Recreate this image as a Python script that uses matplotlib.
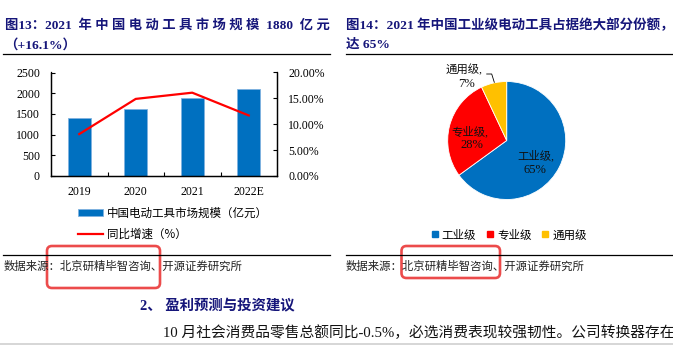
import matplotlib
matplotlib.use('Agg')
import matplotlib.pyplot as plt
from matplotlib.patches import FancyBboxPatch
from matplotlib.lines import Line2D

# ---------------- data ----------------
years = ['2019', '2020', '2021', '2022E']
market_size = [1410, 1620, 1880, 2100]          # 亿元
growth = [8.1, 14.9, 16.1, 11.7]                # %
y_left_ticks = [0, 500, 1000, 1500, 2000, 2500]
y_right_ticks = [0, 5, 10, 15, 20]
pie_labels = ['工业级', '专业级', '通用级']
pie_shares = [65, 28, 7]

# ---------------- style ----------------
W, H = 673, 345
CJK = 'Noto Sans CJK SC'
MIX = ['Liberation Serif', CJK]
NAVY = '#16167a'
BLUE = '#0070C0'
RED = '#FF0000'
GOLD = '#FFC000'
BOXRED = '#ec4b4b'


def fx(x):
    return x / W


def fy(y):
    return 1 - y / H


def rect_px(x0, y0, x1, y1):
    return [fx(x0), fy(y1), (x1 - x0) / W, (y1 - y0) / H]


fig = plt.figure(figsize=(W / 100, H / 100), dpi=100)
fig.patch.set_facecolor('white')

# ---------------- left chart ----------------
ax = fig.add_axes(rect_px(51, 72.5, 277, 176))
xpos = list(range(len(years)))
bars = ax.bar(xpos, market_size, width=0.4, color=BLUE, edgecolor='#7fb2e0',
              linewidth=0.6, zorder=2)
ax.set_xlim(-0.5, len(years) - 0.5)
ax.set_ylim(0, 2500)
ax.set_yticks(y_left_ticks)
ax.set_xticks(xpos)
ax.set_xticklabels(years)
ax.set_xticks([i + 0.5 for i in xpos[:-1]], minor=True)
ax.tick_params(axis='x', which='major', length=0, pad=7)
ax.tick_params(axis='x', which='minor', direction='in', length=3, width=0.8)
ax.tick_params(axis='y', direction='in', length=3, width=0.8, pad=8)
ax.spines['top'].set_visible(False)
for s in ['left', 'right', 'bottom']:
    ax.spines[s].set_linewidth(0.9)

ax2 = ax.twinx()
line, = ax2.plot(xpos, growth, color=RED, lw=1.6, zorder=3)
ax2.set_ylim(0, 20)
ax2.set_yticks(y_right_ticks)
ax2.set_yticklabels([f'{v:.2f}%' for v in y_right_ticks])
ax2.tick_params(axis='y', direction='in', length=3, width=0.8, pad=8)
ax2.spines['top'].set_visible(False)
for s in ['left', 'right', 'bottom']:
    ax2.spines[s].set_linewidth(0.9)
for lab in ax.get_xticklabels() + ax.get_yticklabels() + ax2.get_yticklabels():
    lab.set_family(MIX)
    lab.set_fontsize(8.5)

fig.legend([bars, line], ['中国电动工具市场规模（亿元）', '同比增速（%）'],
           loc='upper left', bbox_to_anchor=(fx(78), fy(207)), frameon=False,
           prop={'family': CJK, 'size': 8.3}, handlelength=2.2, handleheight=0.55,
           handletextpad=0.3, labelspacing=0.7, borderpad=0, borderaxespad=0)

# ---------------- right chart (pie) ----------------
cx, cy, R = 506.7, 140.5, 59
pax = fig.add_axes(rect_px(cx - 120, cy - 120, cx + 120, cy + 120))
pax.pie(pie_shares, colors=[BLUE, RED, GOLD], startangle=90, counterclock=False,
        radius=1, wedgeprops=dict(edgecolor='white', linewidth=0.6))
lim = 120 / R
pax.set_xlim(-lim, lim)
pax.set_ylim(-lim, lim)
pax.set_aspect('equal')
pax.axis('off')


def pd(px, py):
    return ((px - cx) / R, (cy - py) / R)


lab_pos = {'工业级': ((536, 155), (535, 170)),
           '专业级': ((470, 131), (472, 145)),
           '通用级': ((464, 70), (467, 84))}
for name, share in zip(pie_labels, pie_shares):
    (p1, p2) = lab_pos[name]
    pax.text(*pd(*p1), name + ',', ha='center', va='center', family=MIX, size=8.2,
             color='#111111', clip_on=False)
    pax.text(*pd(*p2), f'{share}%', ha='center', va='center', family=MIX, size=9,
             color='#111111', clip_on=False)
lx, ly = zip(pd(486.7, 74), pd(491.7, 74), pd(494.3, 82.3))
pax.plot(lx, ly, color='black', lw=0.6, clip_on=False)

hs = [Line2D([], [], marker='s', ls='none', color=c, markersize=5)
      for c in [BLUE, RED, GOLD]]
fig.legend(hs, pie_labels, loc='center', bbox_to_anchor=(fx(509), fy(235)), ncol=3,
           frameon=False, prop={'family': CJK, 'size': 8.3}, handlelength=0.6,
           handletextpad=0.3, columnspacing=0.9, borderpad=0, borderaxespad=0)

# ---------------- titles / rules / sources ----------------
fig.text(fx(5), fy(25), '图13：2021  年 中 国 电 动 工 具 市 场 规 模  1880  亿 元',
         family=MIX, weight='bold', color=NAVY, size=9.6, va='center')
fig.text(fx(4), fy(45), '（+16.1%）', family=MIX, weight='bold', color=NAVY,
         size=9.7, va='center')
fig.text(fx(346), fy(25), '图14：2021 年中国工业级电动工具占据绝大部分份额，',
         family=MIX, weight='bold', color=NAVY, size=9.7, va='center')
fig.text(fx(346), fy(45), '达 65%', family=MIX, weight='bold', color=NAVY,
         size=9.7, va='center')

for (x0, x1, y) in [(3, 330, 54), (346, 673, 54), (3, 330, 255), (346, 673, 255)]:
    fig.add_artist(Line2D([fx(x0), fx(x1)], [fy(y), fy(y)], transform=fig.transFigure,
                          color='black', lw=0.9))
fig.add_artist(Line2D([0, 1], [fy(343.5), fy(343.5)], transform=fig.transFigure,
                      color='#cfcfcf', lw=1.2))

fig.text(fx(4), fy(266), '数据来源：北京研精毕智咨询、开源证券研究所', family=CJK,
         size=8.2, va='center', color='#222222')
fig.text(fx(346), fy(266), '数据来源：北京研精毕智咨询、开源证券研究所', family=CJK,
         size=8.2, va='center', color='#222222')

for (x0, y0, x1, y1) in [(47, 246, 160, 288), (401.5, 246, 500, 278)]:
    fig.add_artist(FancyBboxPatch((x0 / 100, (H - y1) / 100), (x1 - x0) / 100,
                                  (y1 - y0) / 100,
                                  boxstyle='round,pad=0,rounding_size=0.05',
                                  transform=fig.dpi_scale_trans, fill=False,
                                  edgecolor=BOXRED, lw=1.9))

fig.text(fx(140), fy(306), '2、 盈利预测与投资建议', family=MIX, weight='bold',
         color=NAVY, size=10.4, va='center')
fig.text(fx(163), fy(333), '10 月社会消费品零售总额同比-0.5%，必选消费表现较强韧性。公司转换器存在',
         family=MIX, size=10.6, va='center', color='#111111')

fig.savefig('out.png', dpi=100, facecolor='white')
